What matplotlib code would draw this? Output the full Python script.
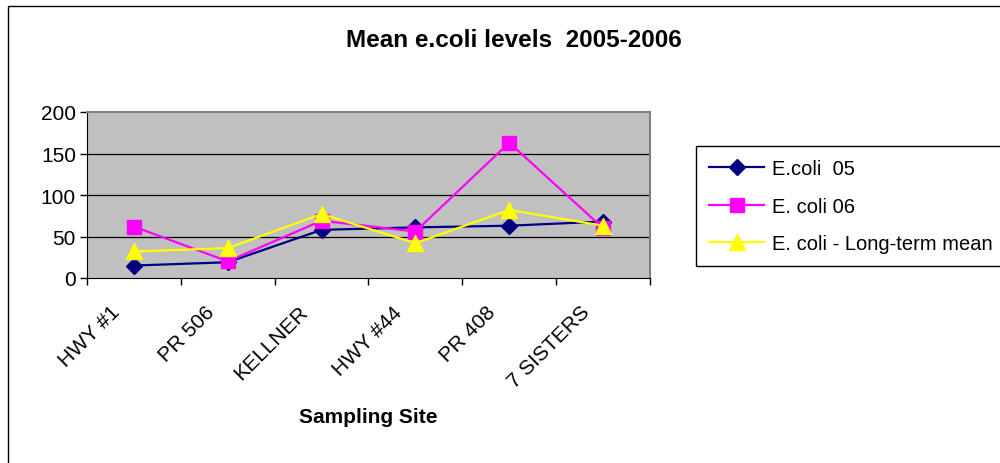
import matplotlib
matplotlib.use("Agg")
import matplotlib.pyplot as plt
from matplotlib.patches import Rectangle

sites = ["HWY #1", "PR 506", "KELLNER", "HWY #44", "PR 408", "7 SISTERS"]
ecoli_05 = [15, 19, 58, 61, 63, 68]
ecoli_06 = [62, 20, 69, 56, 163, 60]
ecoli_lt = [32, 36, 77, 42, 82, 63]
y_ticks = [0, 50, 100, 150, 200]

plt.rcParams['font.family'] = ['Liberation Sans', 'DejaVu Sans']

fig = plt.figure(figsize=(10, 4.64), dpi=100)
# plot area: x 87..650 px, y 113..279 px
ax = fig.add_axes([0.087, 1 - 279 / 464, 0.563, 166 / 464])
ax.set_facecolor('#C0C0C0')

x = list(range(len(sites)))
ax.plot(x, ecoli_05, '-D', color='#000080', markersize=8, linewidth=1.6, label='E.coli  05')
ax.plot(x, ecoli_06, '-s', color='#FF00FF', markersize=10, linewidth=1.6, label='E. coli 06')
ax.plot(x, ecoli_lt, '-^', color='#FFFF00', markersize=11, linewidth=1.6, label='E. coli - Long-term mean')

ax.set_xlim(-0.5, len(sites) - 0.5)
ax.set_ylim(0, 200)
ax.set_yticks(y_ticks)
ax.tick_params(axis='y', labelsize=15, length=5, direction='out', width=1, pad=3)
for yv in y_ticks[1:-1]:
    ax.axhline(yv, color='black', linewidth=0.9, zorder=0.5)

# category ticks at boundaries, labels at centres
ax.set_xticks([i - 0.5 for i in range(len(sites) + 1)])
ax.set_xticklabels([])
ax.tick_params(axis='x', length=5, direction='out', width=1)
for i, s in enumerate(sites):
    ax.annotate(s, xy=(i, 0), xytext=(-10, -24), textcoords='offset pixels',
                rotation=45, ha='right', va='top', fontsize=15)

for side in ['top', 'right']:
    ax.spines[side].set_color('#808080')
    ax.spines[side].set_linewidth(1.5)
for side in ['left', 'bottom']:
    ax.spines[side].set_color('black')

fig.text(0.514, 1 - 47 / 464, "Mean e.coli levels  2005-2006", ha='center', va='baseline',
         fontsize=17.5, fontweight='bold')
fig.text(0.368, 1 - 423 / 464, "Sampling Site", ha='center', va='baseline',
         fontsize=15, fontweight='bold')

leg = fig.legend(loc='upper left', bbox_to_anchor=(0.696, 1 - 147 / 464), borderaxespad=0,
                 fontsize=14.5, frameon=True, fancybox=False, edgecolor='black', framealpha=1,
                 handlelength=2.75, handletextpad=0.35, borderpad=0.65, labelspacing=0.92)
leg.get_frame().set_linewidth(1)

fig.patches.append(Rectangle((0.008, -0.02), 1.2, 1.005, transform=fig.transFigure,
                             fill=False, edgecolor='black', linewidth=1))

fig.savefig("out.png", dpi=100)
